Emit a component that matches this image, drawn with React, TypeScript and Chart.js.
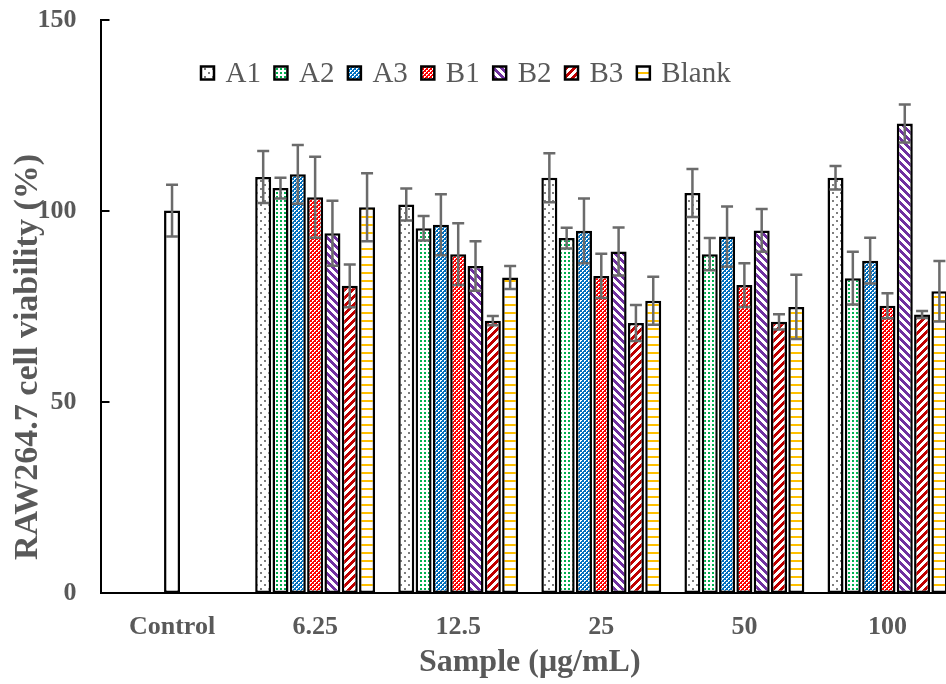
import React, { useEffect, useRef } from 'react';
import { Chart, registerables } from 'chart.js';

Chart.register(...registerables);

// Concentration groups along the x axis
const categories = ['Control', '6.25', '12.5', '25', '50', '100'];

// Untreated control (single bar)
const controlValues = [100.1, null, null, null, null, null];
const controlErrors = [6.8, null, null, null, null, null];

// Sample series: mean viability (%) and standard deviation
const seriesNames = ['A1', 'A2', 'A3', 'B1', 'B2', 'B3', 'Blank'];
const a1Values = [null, 108.9, 101.7, 108.7, 104.7, 108.7];
const a1Errors = [null, 6.8, 4.2, 6.4, 6.3, 3.1];
const a2Values = [null, 106.0, 95.5, 92.9, 88.7, 82.4];
const a2Errors = [null, 2.7, 3.2, 2.7, 4.2, 6.9];
const a3Values = [null, 109.6, 96.4, 94.8, 93.3, 87.0];
const a3Errors = [null, 7.7, 8.0, 8.5, 7.9, 6.0];
const b1Values = [null, 103.6, 88.7, 83.0, 80.6, 75.2];
const b1Errors = [null, 10.6, 8.1, 5.8, 5.7, 3.3];
const b2Values = [null, 94.2, 85.6, 89.4, 94.9, 122.9];
const b2Errors = [null, 8.5, 6.5, 6.3, 5.6, 5.0];
const b3Values = [null, 80.4, 71.3, 70.7, 71.0, 72.9];
const b3Errors = [null, 5.6, 1.2, 4.7, 2.0, 0.9];
const blankValues = [null, 101.0, 82.6, 76.5, 74.9, 79.0];
const blankErrors = [null, 8.9, 3.0, 6.3, 8.4, 7.9];

// Y axis
const yMin = 0;
const yMax = 150;
const yStep = 50;

const SERIF = '"Liberation Serif", "Times New Roman", serif';
const TEXT_GRAY = '#595959';
const ERR_GRAY = '#6b6b6b';

type Painter = (x: number, y: number) => string | null;

function makePattern(w: number, h: number, paint: Painter): CanvasPattern | string {
  const c = document.createElement('canvas');
  c.width = w;
  c.height = h;
  const g = c.getContext('2d');
  if (!g) return '#ffffff';
  g.fillStyle = '#ffffff';
  g.fillRect(0, 0, w, h);
  for (let y = 0; y < h; y++) {
    for (let x = 0; x < w; x++) {
      const col = paint(x, y);
      if (col) {
        g.fillStyle = col;
        g.fillRect(x, y, 1, 1);
      }
    }
  }
  const p = g.createPattern(c, 'repeat');
  return p || '#ffffff';
}

// small checker: coloured except 3-pixel white corners on alternate cells
function checkerWithHoles(color: string): Painter {
  return (x, y) => {
    const hole =
      (x === 0 && y === 0) || (x === 1 && y === 0) || (x === 0 && y === 1) ||
      (x === 2 && y === 2) || (x === 3 && y === 2) || (x === 2 && y === 3);
    return hole ? null : color;
  };
}

function buildFills() {
  const sparseDots = makePattern(8, 8, (x, y) =>
    (x < 2 && y < 2) || (x >= 4 && x < 6 && y >= 4 && y < 6) ? '#7f7f7f' : null);
  const greenDots = makePattern(4, 4, (x, y) => (x < 2 && y < 2 ? '#00B050' : null));
  const blueChecker = makePattern(4, 4, checkerWithHoles('#0070C0'));
  const redChecker = makePattern(4, 4, checkerWithHoles('#FF0000'));
  const purpleDown = makePattern(8, 8, (x, y) =>
    (((x - y) % 8) + 8) % 8 < 4 ? '#7030A0' : null);
  const redUp = makePattern(8, 8, (x, y) => ((x + y) % 8 < 4 ? '#C00000' : null));
  const orangeLines = makePattern(8, 8, (_x, y) => (y < 2 ? '#FFC000' : null));
  return [sparseDots, greenDots, blueChecker, redChecker, purpleDown, redUp, orangeLines];
}

const errorBarPlugin = {
  id: 'errorBars',
  afterDatasetsDraw(chart: any) {
    const { ctx } = chart;
    const yScale = chart.scales.y;
    ctx.save();
    ctx.strokeStyle = ERR_GRAY;
    ctx.lineWidth = 2.5;
    chart.data.datasets.forEach((ds: any, i: number) => {
      const meta = chart.getDatasetMeta(i);
      const errs: (number | null)[] = ds.errors || [];
      meta.data.forEach((bar: any, j: number) => {
        const v = ds.data[j];
        const e = errs[j];
        if (v == null || e == null) return;
        const x = bar.x;
        const top = yScale.getPixelForValue(v + e);
        const bot = yScale.getPixelForValue(v - e);
        const cap = 6;
        ctx.beginPath();
        ctx.moveTo(x, top);
        ctx.lineTo(x, bot);
        ctx.moveTo(x - cap, top);
        ctx.lineTo(x + cap, top);
        ctx.moveTo(x - cap, bot);
        ctx.lineTo(x + cap, bot);
        ctx.stroke();
      });
    });
    ctx.restore();
  },
};

const decorPlugin = {
  id: 'decor',
  afterDraw(chart: any) {
    const { ctx, chartArea } = chart;
    const yScale = chart.scales.y;
    ctx.save();

    // inward tick marks on the value axis
    ctx.strokeStyle = '#000';
    ctx.lineWidth = 2;
    for (let v = yMin; v <= yMax; v += yStep) {
      const py = Math.round(yScale.getPixelForValue(v));
      ctx.beginPath();
      ctx.moveTo(chartArea.left, py);
      ctx.lineTo(chartArea.left + 9, py);
      ctx.stroke();
    }

    // axis titles
    ctx.fillStyle = TEXT_GRAY;
    ctx.font = `bold 32px ${SERIF}`;
    ctx.textAlign = 'center';
    ctx.textBaseline = 'middle';
    ctx.fillText('Sample (μg/mL)', (chartArea.left + chartArea.right) / 2, 663);
    ctx.save();
    ctx.font = `bold 34px ${SERIF}`;
    ctx.translate(28, 357);
    ctx.rotate(-Math.PI / 2);
    ctx.fillText('RAW264.7 cell viability (%)', 0, 0);
    ctx.restore();

    // legend row inside the plot
    ctx.font = `29px ${SERIF}`;
    ctx.textAlign = 'left';
    ctx.textBaseline = 'middle';
    let x = chartArea.left + 100.5;
    const cy = 73;
    const box = 13;
    chart.data.datasets.forEach((ds: any) => {
      if (!ds.inLegend) return;
      ctx.fillStyle = ds.backgroundColor;
      ctx.fillRect(x, cy - box / 2, box, box);
      ctx.strokeStyle = '#000';
      ctx.lineWidth = 2.5;
      ctx.strokeRect(x, cy - box / 2, box, box);
      ctx.fillStyle = TEXT_GRAY;
      const tx = x + 24.5;
      ctx.fillText(ds.label, tx, cy + 1);
      x = tx + ctx.measureText(ds.label).width + 13.5;
    });

    ctx.restore();
  },
};

export default function App() {
  const canvasRef = useRef<HTMLCanvasElement | null>(null);

  useEffect(() => {
    const canvas = canvasRef.current;
    if (!canvas) return;
    const fills = buildFills();
    const values = [a1Values, a2Values, a3Values, b1Values, b2Values, b3Values, blankValues];
    const errors = [a1Errors, a2Errors, a3Errors, b1Errors, b2Errors, b3Errors, blankErrors];

    const sampleSets = seriesNames.map((name, i) => ({
      label: name,
      data: values[i],
      errors: errors[i],
      inLegend: true,
      backgroundColor: fills[i],
      borderColor: '#000000',
      borderWidth: 2.5,
      borderSkipped: false,
    }));

    const controlSet = {
      label: 'Control',
      data: controlValues,
      errors: controlErrors,
      inLegend: false,
      backgroundColor: '#ffffff',
      borderColor: '#000000',
      borderWidth: 2.5,
      borderSkipped: false,
      grouped: false,
      maxBarThickness: 16,
    };

    const tickFont = { family: SERIF, size: 26, weight: 'bold' as const };

    const chart = new Chart(canvas, {
      type: 'bar',
      data: {
        labels: categories,
        datasets: [controlSet as any, ...(sampleSets as any[])],
      },
      options: {
        responsive: false,
        animation: false,
        devicePixelRatio: 1,
        layout: { padding: { top: 20, left: 0, right: 0, bottom: 0 } },
        datasets: { bar: { categoryPercentage: 0.847, barPercentage: 0.925 } },
        plugins: { legend: { display: false }, tooltip: { enabled: false } },
        scales: {
          x: {
            type: 'category',
            offset: true,
            grid: { display: false, drawTicks: false },
            border: { display: true, color: '#000000', width: 2 },
            ticks: { color: TEXT_GRAY, font: tickFont, padding: 19, maxRotation: 0 },
            afterFit(scale: any) {
              scale.height = 91;
              scale.paddingLeft = 0;
              scale.paddingRight = 0;
            },
          },
          y: {
            min: yMin,
            max: yMax,
            grid: { display: false, drawTicks: false },
            border: { display: true, color: '#000000', width: 2 },
            ticks: { stepSize: yStep, color: TEXT_GRAY, font: tickFont, padding: 24 },
            afterFit(scale: any) {
              scale.width = 100.5;
              scale.paddingTop = 0;
              scale.paddingBottom = 0;
            },
          },
        },
      },
      plugins: [errorBarPlugin, decorPlugin],
    });

    return () => chart.destroy();
  }, []);

  return (
    <div
      style={{
        position: 'fixed',
        left: 0,
        top: 0,
        width: 946,
        height: 684,
        overflow: 'hidden',
        background: '#ffffff',
      }}
    >
      <canvas ref={canvasRef} width={959} height={684} style={{ display: 'block' }} />
    </div>
  );
}
